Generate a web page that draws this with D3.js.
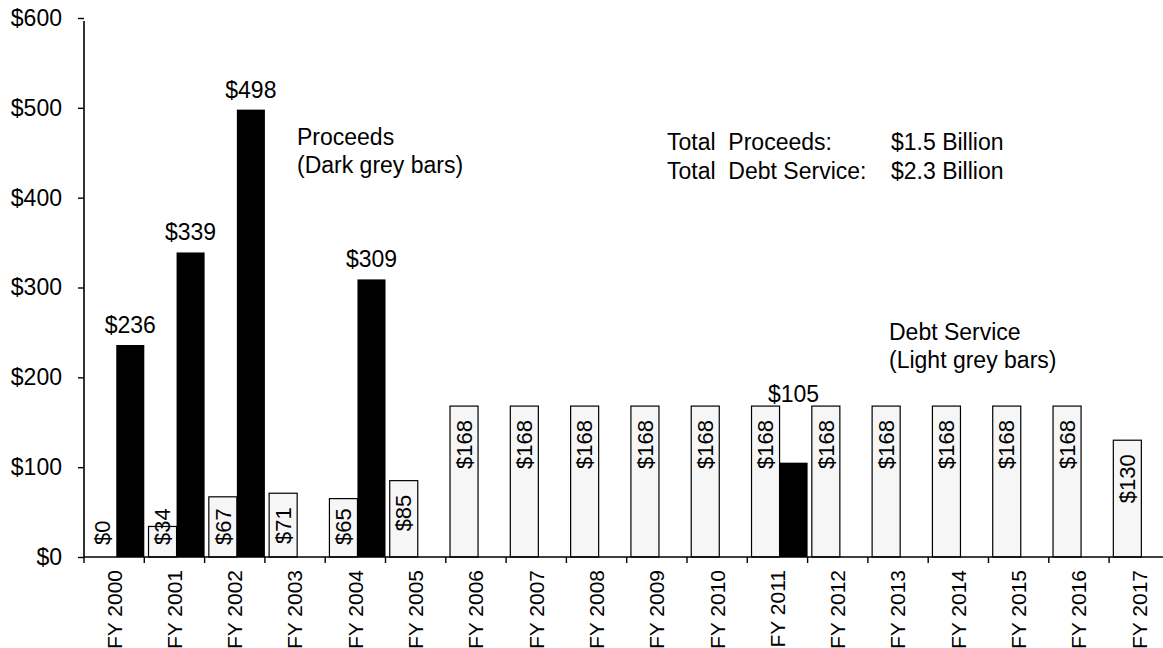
<!DOCTYPE html>
<html>
<head>
<meta charset="utf-8">
<script src="https://cdn.jsdelivr.net/npm/d3@7"></script>
<style>
  html, body { margin: 0; padding: 0; background: #fff; }
  svg text { font-family: "Liberation Sans", Arial, sans-serif; fill: #000; }
</style>
</head>
<body>
<svg id="chart" width="1163" height="648"></svg>
<script>
const categories = ["FY 2000","FY 2001","FY 2002","FY 2003","FY 2004","FY 2005","FY 2006","FY 2007","FY 2008",
  "FY 2009","FY 2010","FY 2011","FY 2012","FY 2013","FY 2014","FY 2015","FY 2016","FY 2017"];
const debtService = [0, 34, 67, 71, 65, 85, 168, 168, 168, 168, 168, 168, 168, 168, 168, 168, 168, 130];
const proceeds = [236, 339, 498, null, 309, null, null, null, null, null, null, 105, null, null, null, null, null, null];
const yTicks = [0, 100, 200, 300, 400, 500, 600];
const seriesKeys = ["debt", "proceeds"];
const proceedsNote = ["Proceeds", "(Dark grey bars)"];
const debtNote = ["Debt Service", "(Light grey bars)"];
const totalsLabels = ["Total  Proceeds:", "Total  Debt Service:"];
const totalsValues = ["$1.5 Billion", "$2.3 Billion"];

const svg = d3.select("#chart");
const plotLeft = 84, plotBottom = 557, plotTop = 18;

const x = d3.scaleBand().domain(categories).range([plotLeft, plotLeft + 18 * 60.3]).padding(0);
const step = x.step();
const x1 = d3.scaleBand().domain(seriesKeys).range([step * 0.07, step]).padding(0);
const y = d3.scaleLinear().domain([0, 600]).range([plotBottom, plotTop]);
const fmt = v => "$" + v;

// Debt service bars (light grey)
const g = svg.append("g");
g.selectAll("rect.debt").data(categories).join("rect")
  .attr("class", "debt")
  .attr("x", (c) => x(c) + x1("debt"))
  .attr("y", (c, i) => y(debtService[i]))
  .attr("width", x1.bandwidth())
  .attr("height", (c, i) => plotBottom - y(debtService[i]))
  .attr("fill", "#f6f6f6")
  .attr("stroke", "#000")
  .attr("stroke-width", 1.2);

// Proceeds bars (dark)
const pData = categories.map((c, i) => ({c, v: proceeds[i], d: debtService[i]})).filter(d => d.v != null);
g.selectAll("rect.proc").data(pData).join("rect")
  .attr("class", "proc")
  .attr("x", d => x(d.c) + x1("proceeds"))
  .attr("y", d => y(d.v))
  .attr("width", x1.bandwidth())
  .attr("height", d => plotBottom - y(d.v))
  .attr("fill", "#000");

// Proceeds labels
g.selectAll("text.plab").data(pData).join("text")
  .attr("class", "plab")
  .attr("x", d => x(d.c) + x1("proceeds") + x1.bandwidth() / 2)
  .attr("y", d => d.d > d.v ? y(d.d) - 4 : y(d.v) - 12)
  .attr("text-anchor", "middle")
  .attr("font-size", 23)
  .text(d => fmt(d.v));

// Debt labels (rotated)
g.selectAll("text.dlab").data(categories).join("text")
  .attr("class", "dlab")
  .attr("font-size", 22)
  .attr("text-anchor", "end")
  .attr("dy", "0.35em")
  .text((c, i) => fmt(debtService[i]))
  .each(function(c, i) {
    const len = this.getComputedTextLength();
    const cx = x(c) + x1("debt") + x1.bandwidth() / 2;
    const yEnd = Math.min(y(debtService[i]) + 14, plotBottom - 12 - len);
    d3.select(this).attr("transform", `translate(${cx},${yEnd}) rotate(-90)`);
  });

// Y axis
const yAxis = svg.append("g").attr("transform", `translate(${plotLeft},0)`)
  .call(d3.axisLeft(y).tickValues(yTicks).tickFormat(fmt).tickSize(6).tickPadding(16));
yAxis.select(".domain").attr("stroke", "#000").attr("stroke-width", 1.6).attr("d", `M0,${plotBottom}V${plotTop + 3}`);
yAxis.selectAll(".tick line").attr("stroke", "#000").attr("stroke-width", 1.4);
yAxis.selectAll(".tick text").attr("font-size", 23).attr("font-family", "Liberation Sans, Arial, sans-serif");

// X axis
const xAxis = svg.append("g").attr("transform", `translate(0,${plotBottom})`)
  .call(d3.axisBottom(x).tickSize(0));
xAxis.select(".domain").attr("stroke", "#000").attr("stroke-width", 1.6).attr("d", `M${plotLeft},0H1163`);
xAxis.selectAll(".tick text")
  .attr("font-size", 21)
  .attr("font-family", "Liberation Sans, Arial, sans-serif")
  .attr("text-anchor", "end")
  .attr("transform", "rotate(-90)")
  .attr("x", -13).attr("y", 0).attr("dy", "0.35em");
// boundary ticks
xAxis.selectAll("line.bt").data(categories).join("line")
  .attr("class", "bt")
  .attr("x1", c => x(c)).attr("x2", c => x(c))
  .attr("y1", 0).attr("y2", 6)
  .attr("stroke", "#000").attr("stroke-width", 1.4);

// Annotations
const noteP = svg.append("text").attr("font-size", 23);
noteP.selectAll("tspan").data(proceedsNote).join("tspan")
  .attr("x", 297).attr("y", (d, i) => 145 + i * 28).text(d => d);

const noteD = svg.append("text").attr("font-size", 23);
noteD.selectAll("tspan").data(debtNote).join("tspan")
  .attr("x", 889).attr("y", (d, i) => 340 + i * 28).text(d => d);

const tot = svg.append("g").attr("font-size", 23);
tot.selectAll("text.tl").data(totalsLabels).join("text")
  .attr("class", "tl").attr("x", 667).attr("y", (d, i) => 150 + i * 29)
  .style("white-space", "pre").attr("xml:space", "preserve").text(d => d);
tot.selectAll("text.tv").data(totalsValues).join("text")
  .attr("class", "tv").attr("x", 891).attr("y", (d, i) => 150 + i * 29).text(d => d);
</script>
</body>
</html>
